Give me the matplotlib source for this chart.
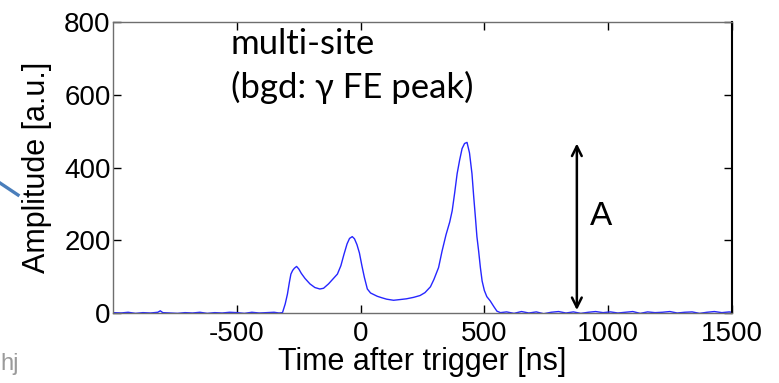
import matplotlib
matplotlib.use("Agg")
import matplotlib.pyplot as plt
from matplotlib.lines import Line2D

# ---- data ----
time_ns = [-1000, -970, -940, -910, -880, -850, -820, -810, -800, -770, -740, -710, -680,
           -650, -620, -590, -560, -530, -500, -470, -440, -410, -380, -350, -330, -316,
           -305, -296, -288, -282, -275, -268, -259, -250, -240, -225, -205, -185, -165,
           -150, -130, -110, -94, -80, -68, -55, -45, -34, -25, -15, -5, 5, 15, 27, 40,
           55, 67, 85, 105, 133, 160, 185, 214, 240, 260, 282, 296, 315, 329, 345, 360,
           370, 380, 390, 400, 410, 420, 430, 440, 450, 457, 464, 470, 477, 484, 491,
           500, 510, 524, 538, 551, 565, 590, 620, 650, 680, 710, 740, 770, 800, 830,
           860, 890, 920, 950, 980, 1010, 1040, 1070, 1100, 1130, 1160, 1190, 1220,
           1250, 1280, 1310, 1340, 1370, 1400, 1430, 1460, 1490, 1500]
amplitude = [1, 0, 2, -1, 1, 0, 2, 6, 1, 0, -1, 1, 0,
             2, -1, 1, 0, 2, 1, -1, 2, 0, 1, 2, 0, 1,
             25, 52, 85, 107, 117, 123, 128, 121, 109, 95, 80, 70, 66,
             68, 80, 95, 107, 130, 160, 190, 205, 210, 204, 188, 165, 130, 98, 66, 55,
             50, 46, 42, 38, 35, 37, 39, 43, 48, 56, 72, 92, 125, 170, 215, 250,
             281, 330, 383, 420, 452, 466, 469, 440, 383, 320, 262, 210, 170, 125, 88,
             62, 45, 33, 18, 5, 1, 3, -1, 4, 0, 3, -2, 2, 4, 0,
             3, -1, 2, 4, 1, 3, 0, 2, 4, -1, 3, 1, 2,
             4, 0, 2, 3, -1, 2, 4, 1, 3, 2]
x_ticks = [-500, 0, 500, 1000, 1500]
y_ticks = [0, 200, 400, 600, 800]
arrow_x = 874
arrow_y = (8, 466)
A_pos = (972, 264)

W, H = 779, 383
fig = plt.figure(figsize=(W / 100, H / 100), dpi=100)
L, R, T, B = 113.3, 731.7, 22, 313
ax = fig.add_axes([L / W, 1 - B / H, (R - L) / W, (B - T) / H])

ax.plot(time_ns, amplitude, color=(0.15, 0.15, 1.0), lw=1.0)
ax.set_xlim(-1000, 1500)
ax.set_ylim(0, 800)
ax.set_xticks(x_ticks)
ax.set_yticks(y_ticks)

sans = ["Liberation Sans", "DejaVu Sans"]
tick_font = dict(family=sans, size=20)
ax.set_xticklabels([str(v) for v in x_ticks], fontdict=tick_font)
ax.set_yticklabels([str(v) for v in y_ticks], fontdict=tick_font)
ax.tick_params(direction="in", length=6, width=1.0, top=True, right=True,
               colors="black")
ax.tick_params(axis="x", pad=6)
ax.tick_params(axis="y", pad=2)
for side in ["left", "top", "bottom"]:
    ax.spines[side].set_color("#6e6e6e")
    ax.spines[side].set_linewidth(1.0)
ax.spines["right"].set_color("black")
ax.spines["right"].set_linewidth(1.5)

ax.set_xlabel("Time after trigger [ns]", family=sans, size=22, labelpad=0)
ax.set_ylabel("Amplitude [a.u.]", family=sans, size=22, labelpad=9)

# annotation arrow
ax.annotate("", xy=(arrow_x, arrow_y[1]), xytext=(arrow_x, arrow_y[0]),
            arrowprops=dict(arrowstyle="<->,head_length=0.7,head_width=0.35",
                            color="black", lw=1.8, shrinkA=0, shrinkB=0))
ax.text(A_pos[0], A_pos[1], "A", family=sans, size=24, ha="center", va="center")

ax.text(0.1898, 0.889, "multi-site", transform=ax.transAxes,
        family=["Lato", "DejaVu Sans"], size=25, va="baseline", ha="left")
ax.text(0.1898, 0.738, "(bgd: \u03b3 FE peak)", transform=ax.transAxes,
        family=["Lato", "DejaVu Sans"], size=25, va="baseline", ha="left")

# slide fragments outside the chart
fig.add_artist(Line2D([0, 18 / W], [1 - 183 / H, 1 - 195 / H], color="#4a7ebb",
                      lw=2.4, transform=fig.transFigure))
fig.text(0.5 / W, 1 - 370 / H, "hj", color="#9a9a9a", size=17,
         family=sans, va="baseline")

fig.savefig("out.png", dpi=100)
